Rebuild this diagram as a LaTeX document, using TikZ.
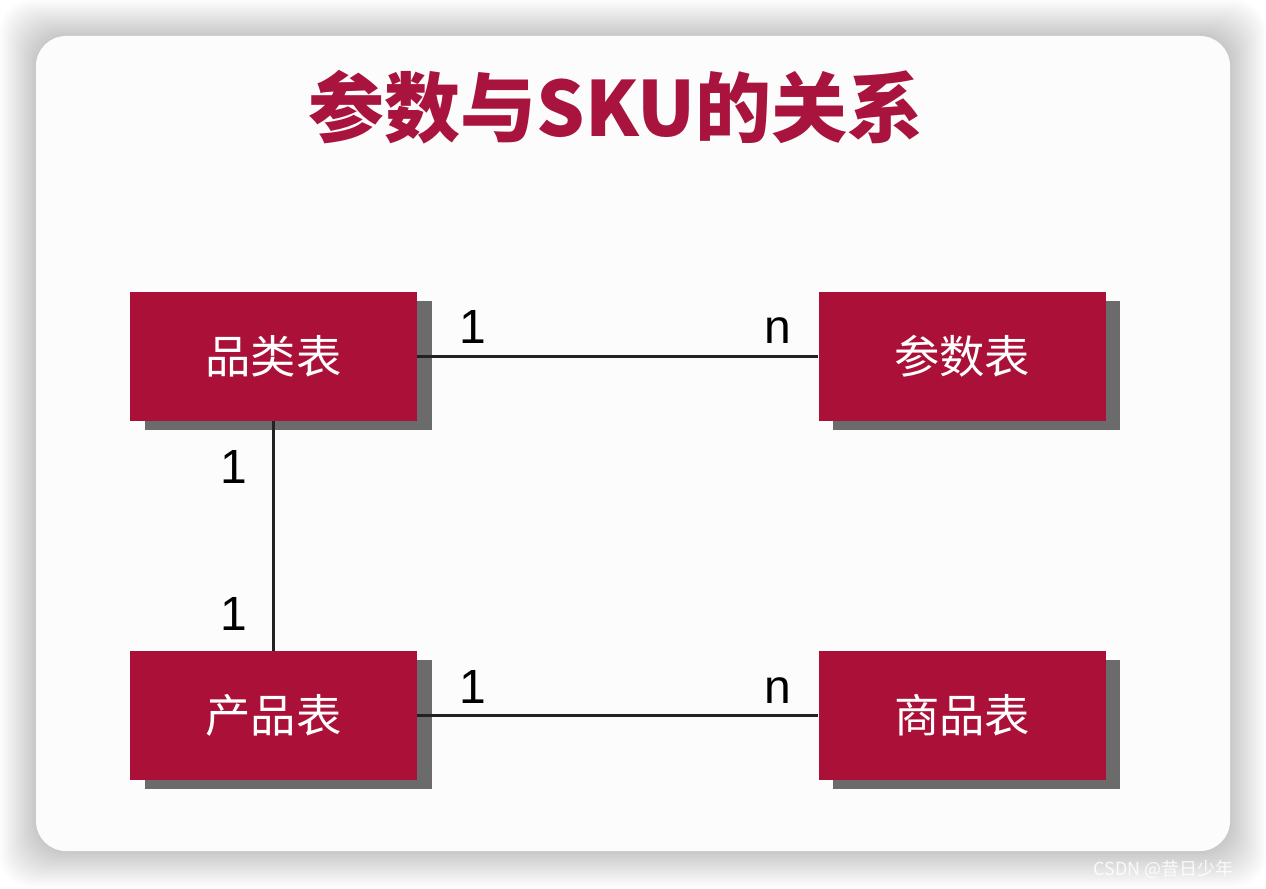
\documentclass[tikz,border=0pt]{standalone}
\usepackage{fontspec}
\setmainfont{Liberation Sans}
\newfontfamily\cjk{Noto Sans CJK SC}
\usetikzlibrary{shadows}
\definecolor{crim}{HTML}{AA1038}
\definecolor{tred}{HTML}{A8143E}
\definecolor{shd}{HTML}{6B6B6B}
\definecolor{cardbg}{HTML}{FBFCFB}
\definecolor{linec}{HTML}{222222}
\tikzset{
  tbl/.style={fill=crim, text=white, inner sep=0pt,
    minimum width=215.25pt, minimum height=96.75pt,
    font=\cjk\fontsize{34}{40}\selectfont,
    general shadow={fill=shd, shadow xshift=11pt, shadow yshift=-7pt}},
  conn/.style={draw=linec, line width=2.4pt},
  lbl/.style={anchor=base, inner sep=0pt, text=black, font=\fontsize{36}{40}\selectfont},
  ttl/.style={anchor=base, inner sep=0pt, text=tred, font=\cjk\bfseries\fontsize{57}{64}\selectfont},
  wm/.style={anchor=base west, inner sep=0pt, text=white, opacity=0.85, font=\cjk\fontsize{13.5}{16}\selectfont}
}
\begin{document}
\begin{tikzpicture}[x=0.75pt,y=-0.75pt]
\useasboundingbox[fill=white] (0,0) rectangle (1266,888);
% card shadow
\foreach \i in {1,...,18}{
  \fill[black, opacity=0.012, rounded corners=24pt] (36-2*\i,36-2*\i) rectangle (1230+2*\i,851+2*\i);
}
% card
\fill[cardbg, rounded corners=22.5pt] (36,36) rectangle (1230,851);
% title
\node[ttl] (title) at (616,136.5) {参数与SKU的关系};
% tables
\node[tbl] (cat) at (273.5,356.5) {品类表};
\node[tbl] (par) at (962,356.5) {参数表};
\node[tbl] (prd) at (273.5,715.5) {产品表};
\node[tbl] (sku) at (962,715.5) {商品表};
% connectors
\draw[conn] (cat.east) -- (par.west);
\draw[conn] (cat.south) -- (prd.north);
\draw[conn] (prd.east) -- (sku.west);
% multiplicities
\node[lbl] (l1) at (473,343) {1};
\node[lbl] (l2) at (778,343) {n};
\node[lbl] (l3) at (233.5,483) {1};
\node[lbl] (l4) at (233.5,630) {1};
\node[lbl] (l5) at (473,703) {1};
\node[lbl] (l6) at (778,703) {n};
% watermark
\node[wm] (wmark) at (1093,875) {CSDN @昔日少年};
\end{tikzpicture}
\end{document}
